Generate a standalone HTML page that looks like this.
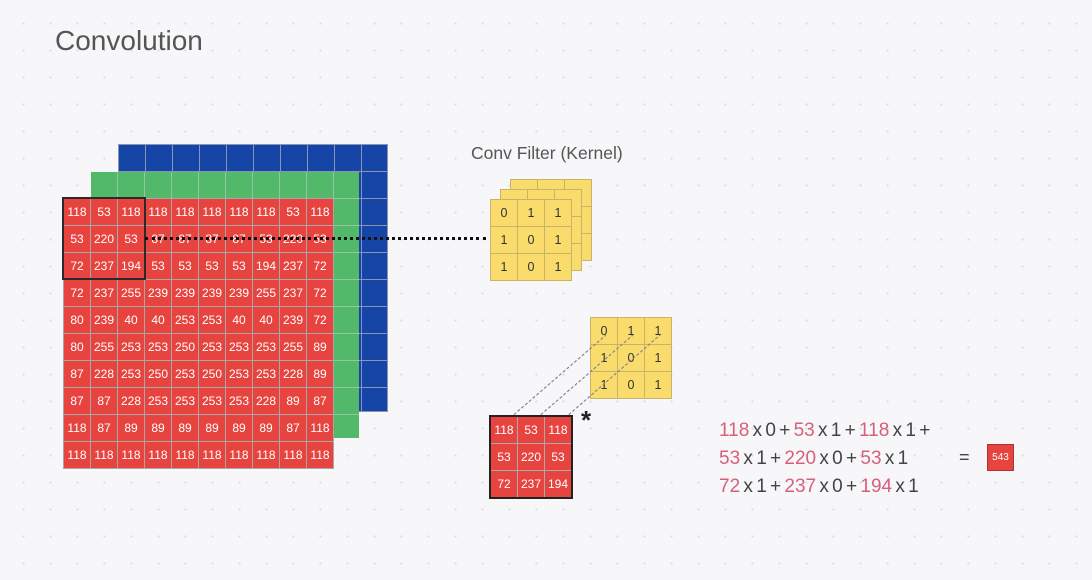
<!DOCTYPE html><html><head><style>
body{margin:0;width:1092px;height:580px;overflow:hidden;background-color:#f7f7f9;background-image:radial-gradient(circle,#dcdce2 1px,transparent 1.3px);background-size:27px 27px;background-position:10px 10px;font-family:"Liberation Sans",sans-serif;position:relative}
.a{position:absolute}
.g{position:absolute;display:grid;gap:1px;padding:1px;background:#a9a6aa}
.g div{display:flex;align-items:center;justify-content:center;font-size:12px;color:#fff}
.r div{background:#e8443f}
.y{background:#c9b26a}.y div{background:#f9dc6c;color:#333;font-size:12.5px}
.f span{color:#d6607a}
</style></head><body>
<div class="a" style="left:55px;top:25px;font-size:28px;color:#555">Convolution</div>
<div class="a" style="left:471px;top:143px;font-size:17.5px;color:#555">Conv Filter (Kernel)</div>
<div class="a" style="left:118px;top:144px;width:270px;height:268px;background:#8a95b5"></div>
<div class="a" style="left:119px;top:145px;width:268px;height:266px;background:repeating-linear-gradient(90deg,#1545a6 0 26px,#8a95b5 26px 27px),#1545a6"></div>
<div class="a" style="left:119px;top:145px;width:268px;height:266px;background:repeating-linear-gradient(180deg,transparent 0 26px,#8a95b5 26px 27px)"></div>
<div class="a" style="left:91px;top:172px;width:268px;height:266px;background:repeating-linear-gradient(90deg,#52b86a 0 26px,#93c89e 26px 27px)"></div>
<div class="a" style="left:91px;top:172px;width:268px;height:266px;background:repeating-linear-gradient(180deg,transparent 0 26px,#93c89e 26px 27px)"></div>
<div class="g r" style="left:63px;top:198px;grid-template-columns:repeat(10,26px);grid-template-rows:repeat(10,26px)">
<div>118</div><div>53</div><div>118</div><div>118</div><div>118</div><div>118</div><div>118</div><div>118</div><div>53</div><div>118</div>
<div>53</div><div>220</div><div>53</div><div>87</div><div>87</div><div>87</div><div>87</div><div>53</div><div>220</div><div>53</div>
<div>72</div><div>237</div><div>194</div><div>53</div><div>53</div><div>53</div><div>53</div><div>194</div><div>237</div><div>72</div>
<div>72</div><div>237</div><div>255</div><div>239</div><div>239</div><div>239</div><div>239</div><div>255</div><div>237</div><div>72</div>
<div>80</div><div>239</div><div>40</div><div>40</div><div>253</div><div>253</div><div>40</div><div>40</div><div>239</div><div>72</div>
<div>80</div><div>255</div><div>253</div><div>253</div><div>250</div><div>253</div><div>253</div><div>253</div><div>255</div><div>89</div>
<div>87</div><div>228</div><div>253</div><div>250</div><div>253</div><div>250</div><div>253</div><div>253</div><div>228</div><div>89</div>
<div>87</div><div>87</div><div>228</div><div>253</div><div>253</div><div>253</div><div>253</div><div>228</div><div>89</div><div>87</div>
<div>118</div><div>87</div><div>89</div><div>89</div><div>89</div><div>89</div><div>89</div><div>89</div><div>87</div><div>118</div>
<div>118</div><div>118</div><div>118</div><div>118</div><div>118</div><div>118</div><div>118</div><div>118</div><div>118</div><div>118</div>
</div>
<div class="a" style="left:62px;top:197px;width:80px;height:79px;border:2px solid #2a2a2a"></div>
<div class="a" style="left:145px;top:237px;width:341px;border-top:3px dotted #111"></div>
<div class="g y" style="left:510px;top:179px;grid-template-columns:repeat(3,26px);grid-template-rows:repeat(3,26px)"><div></div><div></div><div></div><div></div><div></div><div></div><div></div><div></div><div></div></div>
<div class="g y" style="left:500px;top:189px;grid-template-columns:repeat(3,26px);grid-template-rows:repeat(3,26px)"><div></div><div></div><div></div><div></div><div></div><div></div><div></div><div></div><div></div></div>
<div class="g y" style="left:490px;top:199px;grid-template-columns:repeat(3,26px);grid-template-rows:repeat(3,26px)"><div>0</div><div>1</div><div>1</div><div>1</div><div>0</div><div>1</div><div>1</div><div>0</div><div>1</div></div>
<div class="g y" style="left:590px;top:317px;grid-template-columns:repeat(3,26px);grid-template-rows:repeat(3,26px)"><div>0</div><div>1</div><div>1</div><div>1</div><div>0</div><div>1</div><div>1</div><div>0</div><div>1</div></div>
<svg class="a" style="left:0;top:0" width="1092" height="580"><g stroke="#888" stroke-width="1.2" stroke-dasharray="3,2"><line x1="510" y1="418" x2="606" y2="335"/><line x1="537" y1="418" x2="633" y2="335"/><line x1="565" y1="418" x2="660" y2="335"/></g></svg>
<div class="g r" style="background:#aaa;border:2px solid #222;padding:0;left:489px;top:415px;grid-template-columns:repeat(3,26px);grid-template-rows:repeat(3,26px)"><div>118</div><div>53</div><div>118</div><div>53</div><div>220</div><div>53</div><div>72</div><div>237</div><div>194</div></div>
<div class="a" style="left:581px;top:405px;font-size:26px;font-weight:bold;color:#222">*</div>
<div class="a f" style="left:719px;top:417px;font-size:19px;line-height:28px;color:#444;word-spacing:-2px">
<div><span>118</span> x 0 + <span>53</span> x 1 + <span>118</span> x 1 +</div>
<div><span>53</span> x 1 + <span>220</span> x 0 + <span>53</span> x 1</div>
<div><span>72</span> x 1 + <span>237</span> x 0 + <span>194</span> x 1</div>
</div>
<div class="a" style="left:959px;top:447px;font-size:18px;color:#444">=</div>
<div class="a" style="left:987px;top:444px;width:25px;height:25px;background:#e8443f;border:1px solid #a33;color:#fff;font-size:10px;display:flex;align-items:center;justify-content:center">543</div>
</body></html>
